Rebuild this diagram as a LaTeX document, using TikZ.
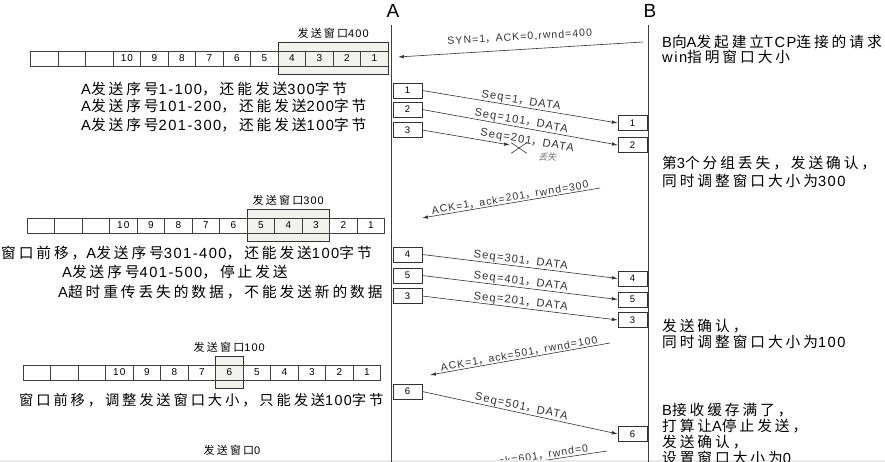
\documentclass[tikz,border=0pt]{standalone}
\usepackage{fontspec}
\setmainfont{Liberation Sans}[LetterSpace=10]
\newfontfamily\zh{Noto Sans CJK SC}[LetterSpace=20]
\newfontfamily\zhslant{Noto Sans CJK SC}[FakeSlant=0.3]
\usetikzlibrary{arrows.meta,positioning,fit,backgrounds,shapes.misc}
\definecolor{winfill}{RGB}{243,241,235}

\begin{document}
\begin{tikzpicture}[
  x=1pt,y=-1pt,
  cell/.style={draw=black!75,minimum width=27.5pt,minimum height=15pt,inner sep=0pt,outer sep=0pt,font=\fontsize{10}{10}\selectfont},
  winbox/.style={draw=black!80,fill=winfill,inner xsep=0pt,inner ysep=8.5pt,outer sep=0pt},
  winlabel/.style={inner sep=0pt,font=\fontsize{11}{12}\selectfont},
  seqbox/.style={draw=black!80,minimum width=29pt,minimum height=15pt,inner sep=0pt,font=\fontsize{9.5}{9.5}\selectfont},
  head/.style={inner sep=0pt,font=\fontsize{19}{19}\selectfont},
  life/.style={line width=0.9pt,black!75},
  msg/.style={-{Latex[length=6pt,width=3.5pt]},line width=0.6pt,black!80},
  lbl/.style={inner sep=0.5pt,font=\fontsize{10.5}{12}\selectfont},
  seqlbl/.style={lbl,font=\fontsize{11.2}{12}\selectfont},
  say/.style={anchor=west,inner sep=0pt,font=\fontsize{14.7}{16}\selectfont},
  note/.style={anchor=west,inner sep=0pt,align=left,font=\fontsize{14.7}{16}\selectfont}
]
\useasboundingbox (0,0) rectangle (885,462);
\fill[black!8] (0,459.5) rectangle (885,462);

\node[head] (hA) at (393,11) {A};
\node[head] (hB) at (650,11) {B};
\coordinate (lifeA) at (391,25);
\coordinate (lifeA-end) at (391,462);
\coordinate (lifeB) at (648,25);
\coordinate (lifeB-end) at (648,462);
\draw[life] (lifeA) -- (lifeA-end);
\draw[life] (lifeB) -- (lifeB-end);

\foreach \lab [count=\i from 0] in {{},{},{},10,9,8,7,6,5,4,3,2,1} {
  \node[cell] (wa-\i) at ({44.4+27.5*\i},58.5) {\lab};
  \node[cell] (wb-\i) at ({40.8+27.5*\i},225.5) {\lab};
  \node[cell] (wc-\i) at ({36.8+27.5*\i},372.5) {\lab};
}
\begin{scope}[on background layer]
  \node[winbox,fit=(wa-9)(wa-12)] (win1) {};
  \node[winbox,fit=(wb-8)(wb-10)] (win2) {};
  \node[winbox,fit=(wc-7)] (win3) {};
\end{scope}
\node[winlabel,above=4pt of win1] (win1-lbl) {{\zh 发送窗口}400};
\node[winlabel,above=4pt of win2] (win2-lbl) {{\zh 发送窗口}300};
\node[winlabel,above=4pt of win3] (win3-lbl) {{\zh 发送窗口}100};

\node[say] (s1) at (81,89) {A{\zh 发送序号}1-100{\zh ，还能发送}300{\zh 字节}};
\node[say] (s2) at (81,106) {A{\zh 发送序号}101-200{\zh ，还能发送}200{\zh 字节}};
\node[say] (s3) at (81,125) {A{\zh 发送序号}201-300{\zh ，还能发送}100{\zh 字节}};
\node[say] (s4) at (1,253) {{\zh 窗口前移，}A{\zh 发送序号}301-400{\zh ，还能发送}100{\zh 字节}};
\node[say] (s5) at (62,272) {A{\zh 发送序号}401-500{\zh ，停止发送}};
\node[say] (s6) at (58,292) {A{\zh 超时重传丢失的数据，不能发送新的数据}};
\node[say,font=\fontsize{14.3}{16}\selectfont] (s7) at (19,400) {{\zh 窗口前移，调整发送窗口大小，只能发送}100{\zh 字节}};
\node[winlabel] (win4-lbl) at (232,450) {{\zh 发送窗口}0};

\node[note] (n1) at (662,49.5) {B{\zh 向}A{\zh 发起建立}TCP{\zh 连接的请求}\\[-1pt]win{\zh 指明窗口大小}};
\node[note] (n2) at (662,172) {{\zh 第}3{\zh 个分组丢失，发送确认，}\\[2pt]{\zh 同时调整窗口大小为}300};
\node[note] (n3) at (662,334) {{\zh 发送确认，}\\{\zh 同时调整窗口大小为}100};
\node[note] (n4) at (662,433.5) {B{\zh 接收缓存满了，}\\{\zh 打算让}A{\zh 停止发送，}\\{\zh 发送确认，}\\{\zh 设置窗口大小为}0};

\node[seqbox] (a1) at (407.5,90.5) {1};
\node[seqbox] (a2) at (407.5,109.5) {2};
\node[seqbox] (a3) at (407.5,130) {3};
\node[seqbox] (a4) at (407.5,254.5) {4};
\node[seqbox] (a5) at (407.5,275.5) {5};
\node[seqbox] (a3r) at (407.5,296) {3};
\node[seqbox] (a6) at (407.5,391.5) {6};
\node[seqbox] (b1) at (632.5,123) {1};
\node[seqbox] (b2) at (632.5,145) {2};
\node[seqbox] (b4) at (632.5,278.5) {4};
\node[seqbox] (b5) at (632.5,299.5) {5};
\node[seqbox] (b3) at (632.5,320) {3};
\node[seqbox] (b6) at (632.5,434) {6};

\coordinate (syn-b) at (643,42);
\coordinate (syn-a) at (398,57);
\draw[msg] (syn-b) -- node[lbl,above=7pt,sloped] {SYN=1{\zh ，}ACK=0,rwnd=400} (syn-a);
\draw[msg] (a1.east) -- node[seqlbl,above,sloped] {Seq=1{\zh ，}DATA} (b1.west);
\draw[msg] (a2.east) -- node[seqlbl,above,sloped] {Seq=101{\zh ，}DATA} (b2.west);
\coordinate (lost) at (510,145);
\draw[msg] (a3.east) -- node[seqlbl,pos=1.18,above=1pt,sloped] {Seq=201{\zh ，}DATA} (lost);
\node[draw=black!80,cross out,line width=0.6pt,minimum width=15pt,minimum height=10pt,inner sep=0pt] (lostx) at (519,148) {};
\node[inner sep=0pt,text=black!55,font={\fontsize{9}{10}\zhslant}] (lost-lbl) at (547,157.5) {丢失};

\coordinate (ack1-b) at (600,188);
\coordinate (ack1-a) at (422,218);
\draw[msg] (ack1-b) -- node[lbl,above,sloped] {ACK=1{\zh ，}ack=201{\zh ，}rwnd=300} (ack1-a);
\draw[msg] (a4.east) -- node[seqlbl,above,sloped] {Seq=301{\zh ，}DATA} (b4.west);
\draw[msg] (a5.east) -- node[seqlbl,above,sloped] {Seq=401{\zh ，}DATA} (b5.west);
\draw[msg] (a3r.east) -- node[seqlbl,above,sloped] {Seq=201{\zh ，}DATA} (b3.west);

\coordinate (ack2-b) at (610,343);
\coordinate (ack2-a) at (430,375);
\draw[msg] (ack2-b) -- node[lbl,above,sloped] {ACK=1{\zh ，}ack=501{\zh ，}rwnd=100} (ack2-a);
\draw[msg] (a6.east) -- node[seqlbl,above,sloped] {Seq=501{\zh ，}DATA} (b6.west);

\begin{scope}
  \clip (0,0) rectangle (885,459.5);
  \coordinate (ack3-b) at (607,451);
  \coordinate (ack3-a) at (427,478);
  \draw[msg] (ack3-b) -- node[lbl,above,sloped] {ACK=1{\zh ，}ack=601{\zh ，}rwnd=0} (ack3-a);
\end{scope}
\end{tikzpicture}
\end{document}
